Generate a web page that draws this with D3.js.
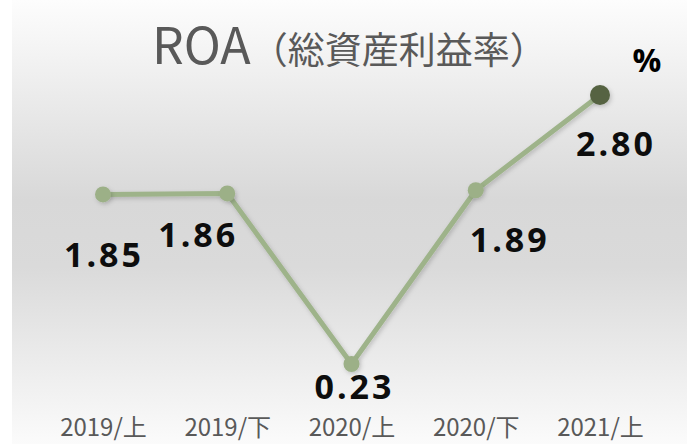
<!DOCTYPE html>
<html>
<head>
<meta charset="utf-8">
<script src="https://cdn.jsdelivr.net/npm/d3@7"></script>
<style>
  html, body { margin: 0; padding: 0; background: #ffffff; }
  svg { display: block; }
</style>
</head>
<body>
<div id="chart"></div>
<script>
// chart data
const categories = ["2019/上", "2019/下", "2020/上", "2020/下", "2021/上"];
const roaValues = [1.85, 1.86, 0.23, 1.89, 2.80];
const valueLabels = ["1.85", "1.86", "0.23", "1.89", "2.80"];
const titleLatin = "ROA";
const titleJa = "（総資産利益率）";
const unitLabel = "%";

const width = 687;
const height = 444;

const svg = d3.select("#chart")
    .append("svg")
    .attr("width", width)
    .attr("height", height);

// background panel gradient
const defs = svg.append("defs");
const grad = defs.append("linearGradient")
    .attr("id", "bg")
    .attr("x1", 0).attr("y1", 0).attr("x2", 0).attr("y2", 1);
grad.append("stop").attr("offset", "0%").attr("stop-color", "#fdfdfd");
grad.append("stop").attr("offset", "45%").attr("stop-color", "#d8d8d8");
grad.append("stop").attr("offset", "60%").attr("stop-color", "#dadada");
grad.append("stop").attr("offset", "100%").attr("stop-color", "#fbfbfb");

const shadow = defs.append("filter").attr("id", "shadow")
    .attr("x", "-50%").attr("y", "-50%").attr("width", "200%").attr("height", "200%");
shadow.append("feDropShadow")
    .attr("dx", 1.5).attr("dy", 2).attr("stdDeviation", 2)
    .attr("flood-color", "#000").attr("flood-opacity", 0.18);

svg.append("rect")
    .attr("x", 12).attr("y", 0)
    .attr("width", width - 12).attr("height", height)
    .attr("fill", "url(#bg)");

// title
const title = svg.append("text")
    .attr("x", 152).attr("y", 64)
    .attr("font-family", "'Noto Sans CJK JP', 'Noto Sans', sans-serif")
    .attr("fill", "#595959");
title.append("tspan").attr("font-size", 50).text(titleLatin);
title.append("tspan").attr("font-size", 37).text(titleJa);

svg.append("text")
    .attr("x", 647).attr("y", 72)
    .attr("text-anchor", "middle")
    .attr("font-family", "'Open Sans', sans-serif")
    .attr("font-weight", "bold")
    .attr("font-size", 32)
    .attr("fill", "#000")
    .text(unitLabel);

const x = d3.scalePoint()
    .domain(categories)
    .range([103, 600]);

const y = d3.scaleLinear()
    .domain([0.23, 2.80])
    .range([364, 95]);

// line
const line = d3.line()
    .x((d, i) => x(categories[i]))
    .y(d => y(d));

svg.append("path")
    .datum(roaValues)
    .attr("d", line)
    .attr("fill", "none")
    .attr("stroke", "#9eb38a")
    .attr("stroke-width", 5)
    .attr("stroke-linejoin", "round")
    .attr("filter", "url(#shadow)");

// markers
svg.selectAll(".pt")
    .data(roaValues)
    .enter()
    .append("circle")
    .attr("class", "pt")
    .attr("cx", (d, i) => x(categories[i]))
    .attr("cy", d => y(d))
    .attr("r", (d, i) => i === roaValues.length - 1 ? 10 : 8)
    .attr("fill", (d, i) => i === roaValues.length - 1 ? "#566443" : "#9cb087")
    .attr("filter", "url(#shadow)");

// value labels (offsets relative to points)
const labelOffsets = [[1, 73], [-29, 54], [3, 35], [34, 62], [16, 61]];
svg.selectAll(".val")
    .data(roaValues)
    .enter()
    .append("text")
    .attr("class", "val")
    .attr("x", (d, i) => x(categories[i]) + labelOffsets[i][0])
    .attr("y", (d, i) => y(d) + labelOffsets[i][1])
    .attr("text-anchor", "middle")
    .attr("font-family", "'Open Sans', sans-serif")
    .attr("font-weight", "bold")
    .attr("font-size", 34)
    .attr("letter-spacing", 3)
    .attr("fill", "#0d0d0d")
    .text((d, i) => valueLabels[i]);

// x axis labels
const xAxis = d3.axisBottom(x).tickSize(0).tickPadding(0);
const gx = svg.append("g")
    .attr("transform", "translate(0,436)")
    .call(xAxis);
gx.select(".domain").remove();
gx.selectAll("text")
    .attr("dy", "0")
    .attr("font-family", "'Noto Sans CJK JP', sans-serif")
    .attr("font-size", 24)
    .attr("fill", "#595959");
</script>
</body>
</html>
